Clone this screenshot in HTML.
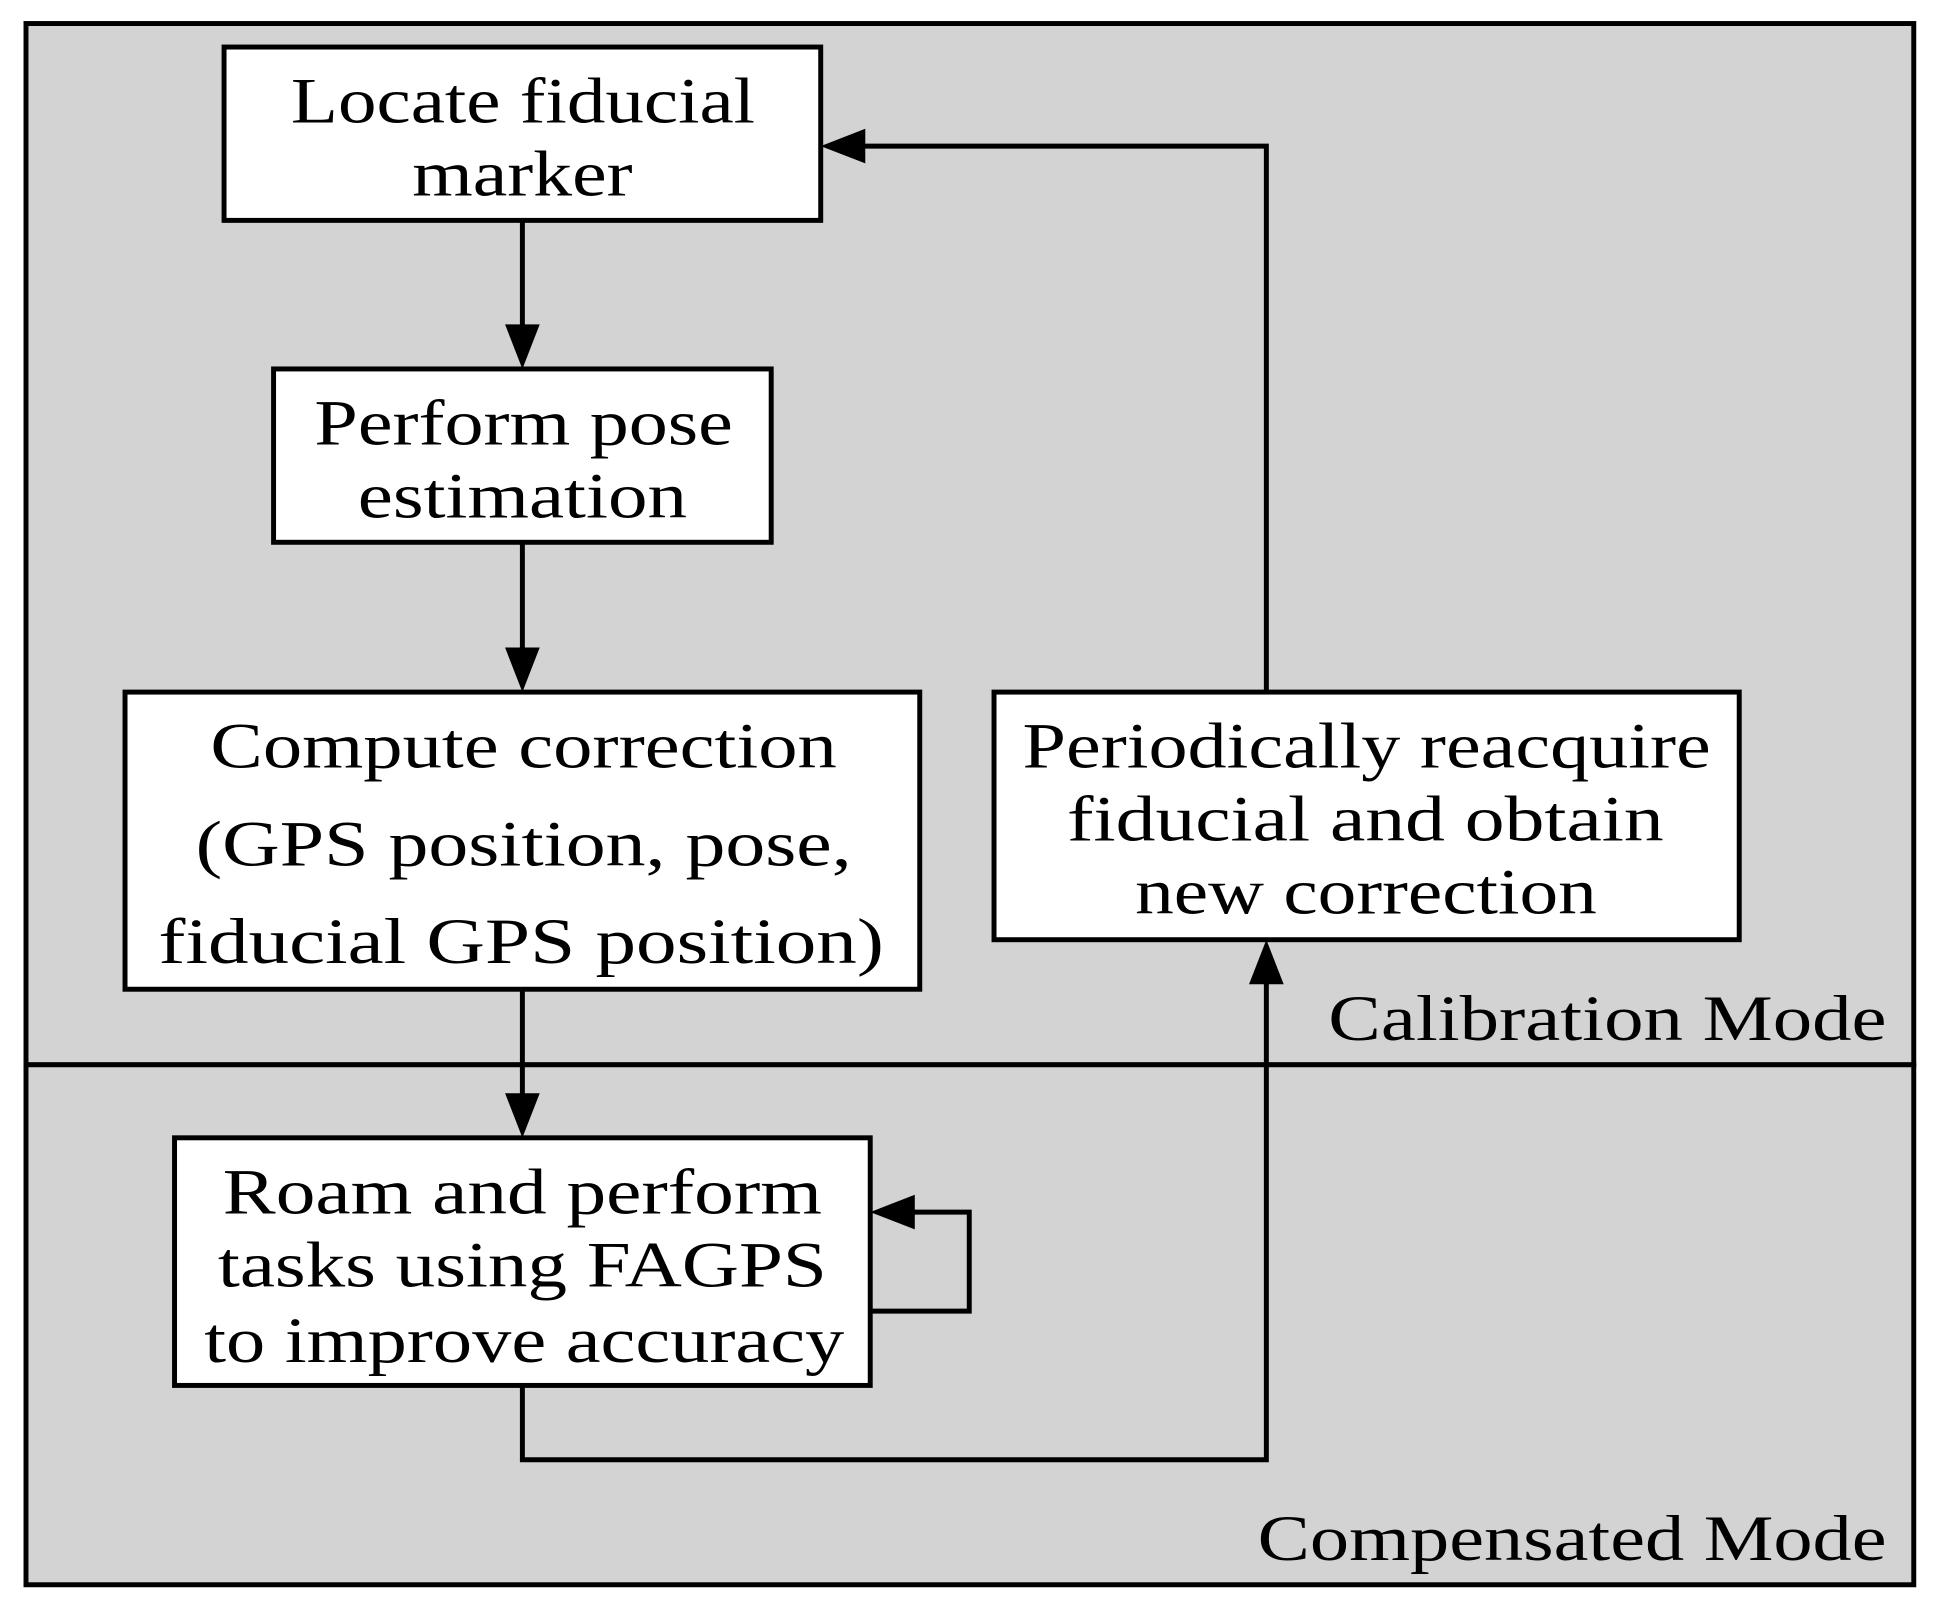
<!DOCTYPE html>
<html><head><meta charset="utf-8"><style>
html,body{margin:0;padding:0;background:#fff;}
svg{display:block;}
text{font-family:"Liberation Serif",serif;font-size:52px;fill:#000;}
</style></head><body>
<svg width="1941" height="1612" viewBox="0 0 1568 1302" preserveAspectRatio="none" xmlns="http://www.w3.org/2000/svg">
<rect x="21" y="19" width="1525" height="841" fill="#d3d3d3" stroke="#000" stroke-width="4"/>
<rect x="21" y="860" width="1525" height="420" fill="#d3d3d3" stroke="#000" stroke-width="4"/>
<g fill="#fff" stroke="#000" stroke-width="4">
<rect x="181" y="38" width="482" height="140"/>
<rect x="221" y="298" width="402" height="140"/>
<rect x="101" y="559" width="642" height="240"/>
<rect x="803" y="559" width="602" height="200"/>
<rect x="141" y="919" width="562" height="200"/>
</g>
<g fill="none" stroke="#000" stroke-width="4">
<line x1="422" y1="178" x2="422" y2="268"/>
<line x1="422" y1="438" x2="422" y2="529"/>
<line x1="422" y1="799" x2="422" y2="889"/>
<polyline points="1023,559 1023,118 695,118"/>
<polyline points="422,1119 422,1179 1023,1179 1023,791"/>
<polyline points="703,1059 783,1059 783,979 735,979"/>
</g>
<g fill="#000">
<polygon points="408,262 436,262 422,298"/>
<polygon points="408,523 436,523 422,559"/>
<polygon points="408,883 436,883 422,919"/>
<polygon points="699,104 699,132 663,118"/>
<polygon points="1009,795 1037,795 1023,759"/>
<polygon points="739,965 739,993 703,979"/>
</g>
<g text-anchor="start" lengthAdjust="spacingAndGlyphs">
<text x="235" y="99" textLength="375" lengthAdjust="spacingAndGlyphs">Locate fiducial</text>
<text x="333" y="158" textLength="178" lengthAdjust="spacingAndGlyphs">marker</text>
<text x="254" y="359" textLength="338" lengthAdjust="spacingAndGlyphs">Perform pose</text>
<text x="289" y="418" textLength="266" lengthAdjust="spacingAndGlyphs">estimation</text>
<text x="170" y="620" textLength="506" lengthAdjust="spacingAndGlyphs">Compute correction</text>
<text x="158" y="699" textLength="530" lengthAdjust="spacingAndGlyphs">(GPS position, pose,</text>
<text x="128" y="778" textLength="586" lengthAdjust="spacingAndGlyphs">fiducial GPS position)</text>
<text x="826" y="620" textLength="556" lengthAdjust="spacingAndGlyphs">Periodically reacquire</text>
<text x="862" y="679" textLength="482" lengthAdjust="spacingAndGlyphs">fiducial and obtain</text>
<text x="917" y="738" textLength="373" lengthAdjust="spacingAndGlyphs">new correction</text>
<text x="180" y="980" textLength="484" lengthAdjust="spacingAndGlyphs">Roam and perform</text>
<text x="176" y="1039" textLength="492" lengthAdjust="spacingAndGlyphs">tasks using FAGPS</text>
<text x="165" y="1100" textLength="517" lengthAdjust="spacingAndGlyphs">to improve accuracy</text>
<text x="1073" y="840" textLength="451" lengthAdjust="spacingAndGlyphs">Calibration Mode</text>
<text x="1016" y="1260" textLength="508" lengthAdjust="spacingAndGlyphs">Compensated Mode</text>
</g>
</svg>
</body></html>
